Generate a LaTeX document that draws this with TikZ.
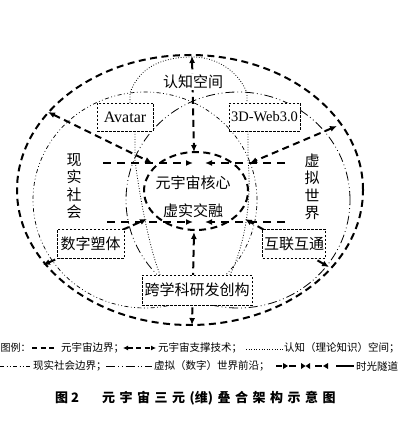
\documentclass[tikz,border=0pt]{standalone}
\usepackage{fontspec}
\setmainfont{Liberation Serif}
\newfontfamily\cjk{Noto Sans CJK SC}
\usetikzlibrary{arrows.meta}
\pgfdeclarelayer{back}
\pgfdeclarelayer{bg}
\pgfsetlayers{back,bg,main}
\newcommand{\capg}{\hspace{4.5pt}}
\begin{document}
\begin{tikzpicture}[x=1pt,y=-1pt,
  bound/.style={line width=2pt, dash pattern=on 7pt off 4.5pt},
  support/.style={line width=2pt, dash pattern=on 7pt off 4.5pt, {Latex[length=7pt,width=6pt]}-{Latex[length=7pt,width=6pt]}},
  tunnel/.style={line width=2pt, dash pattern=on 8pt off 6pt, -{Latex[length=7pt,width=6pt]}},
  realb/.style={line width=0.7pt, dash pattern=on 4pt off 2.5pt on 0.8pt off 2.5pt on 0.8pt off 2.5pt},
  virtb/.style={line width=0.8pt, dash pattern=on 9pt off 3pt on 0.8pt off 3pt on 0.8pt off 3pt},
  cog/.style={line width=0.8pt, dash pattern=on 0.8pt off 1.8pt},
  boxn/.style={draw, fill=white, line width=0.7pt, dash pattern=on 2.5pt off 1.5pt, inner sep=0pt},
  cjkt/.style={font=\cjk\fontsize{15}{17.5}\selectfont},
  lgd/.style={font=\cjk\fontsize{10.5}{12}\selectfont, anchor=west, inner sep=0pt},
]
\useasboundingbox (0,0) rectangle (419,427);
\begin{pgfonlayer}{back}
\fill[white] (0,0) rectangle (419,427);
\end{pgfonlayer}

% ---- nodes ----
\node[boxn, minimum width=56pt, minimum height=28pt, font=\fontsize{16}{16}\selectfont] (avatar) at (125,117) {Avatar};
\node[boxn, minimum width=71pt, minimum height=28pt, font=\fontsize{14.5}{14.5}\selectfont] (web) at (264.5,117) {3D-Web3.0};
\node[boxn, cjkt, minimum width=67pt, minimum height=29pt] (digi) at (90.5,243.5) {数字塑体};
\node[boxn, cjkt, minimum width=63pt, minimum height=29pt] (inter) at (294,243.5) {互联互通};
\node[boxn, cjkt, minimum width=110pt, minimum height=30pt] (cross) at (197,290) {跨学科研发创构};

\node[cjkt, fill=white, inner sep=1pt] (cogt) at (193,82) {认知空间};
\node[cjkt, align=center] (real) at (74,186) {现\\实\\社\\会};
\node[cjkt, align=center] (virt) at (312,187) {虚\\拟\\世\\界};
\node[cjkt] (core1) at (193,183) {元宇宙核心};
\node[cjkt] (core2) at (193,211) {虚实交融};

% ---- coordinates ----
\coordinate (oT) at (192,56);
\coordinate (oB) at (192,325);
\coordinate (oUL) at (48,112);
\coordinate (oUR) at (337,126);
\coordinate (oLL) at (43,265);
\coordinate (oLR) at (329,267);
\coordinate (cT) at (194,152);
\coordinate (cB) at (194,232);
\coordinate (cUL) at (152,163);
\coordinate (cUR) at (250,163);
\coordinate (cLL) at (147,219);
\coordinate (cLR) at (245,219);
\coordinate (tL1) at (103,163);
\coordinate (tR1) at (285,163);
\coordinate (tM1a) at (193,163);
\coordinate (tM1b) at (205,163);
\coordinate (tL2) at (107,222);
\coordinate (tR2) at (285,222);
\coordinate (tM2a) at (193,222);
\coordinate (tM2b) at (205,222);
\coordinate (a1) at (130,93);
\coordinate (w1) at (247,93);
\coordinate (a2) at (135,160);
\coordinate (w2) at (248,160);
\coordinate (k1) at (160,275);
\coordinate (k2) at (230,275);

\begin{pgfonlayer}{bg}
% ellipses
\draw[bound] (190,190) ellipse [x radius=173pt, y radius=135pt];
\draw[realb] (145,200) ellipse [x radius=112pt, y radius=108pt];
\draw[virtb] (238,200) ellipse [x radius=112pt, y radius=108pt];
\draw[bound] (196,191) ellipse [x radius=52pt, y radius=39pt];
% support arrows
\draw[support] (oT) -- (cT);
\draw[support] (cB) -- (oB);
\draw[support] (oUL) -- (cUL);
\draw[support] (oUR) -- (cUR);
\draw[support] (oLL) -- (cLL);
\draw[support] (oLR) -- (cLR);
% time tunnels
\draw[tunnel] (tL1) -- (tM1a);
\draw[tunnel] (tR1) -- (tM1b);
\draw[tunnel] (tL2) -- (tM2a);
\draw[tunnel] (tR2) -- (tM2b);
% cognitive space
\draw[cog] (avatar.north -| a1) -- (a1) .. controls (140,65) and (165,57) .. (193,57)
  .. controls (215,57) and (238,70) .. (w1) -- (web.north -| w1);
\draw[cog] (avatar.south -| a2) -- (a2) .. controls (140,200) and (150,250) .. (cross.north -| k1);
\draw[cog] (web.south -| w2) -- (w2) .. controls (252,200) and (245,245) .. (cross.north -| k2);
\end{pgfonlayer}

% ---- legend ----
\coordinate (l1a) at (32,348);
\coordinate (l1b) at (57,348);
\coordinate (l2a) at (123,348);
\coordinate (l2b) at (156,348);
\coordinate (l3a) at (246,349);
\coordinate (l3b) at (283,349);
\coordinate (l4a) at (0,366);
\coordinate (l4b) at (32,366);
\coordinate (l5a) at (106,366);
\coordinate (l5b) at (152,366);
\node[lgd, font=\cjk\fontsize{10}{12}\selectfont] (lg0) at (0.5,348) {图例：};
\draw[line width=1.6pt, dash pattern=on 5pt off 3.5pt] (l1a) -- (l1b);
\node[lgd] (lg1) at (61,348) {元宇宙边界；};
\draw[line width=1.6pt, dash pattern=on 5pt off 3.5pt, {Latex[length=5pt,width=5pt]}-{Latex[length=5pt,width=5pt]}] (l2a) -- (l2b);
\node[lgd] (lg2) at (158,348) {元宇宙支撑技术；};
\draw[cog] (l3a) -- (l3b);
\node[lgd] (lg3) at (284,348) {认知（理论知识）空间；};
\draw[realb] (l4a) -- (l4b);
\node[lgd] (lg4) at (33,366) {现实社会边界；};
\draw[virtb] (l5a) -- (l5b);
\node[lgd] (lg5) at (154,366) {虚拟（数字）世界前沿；};
\draw[line width=1.6pt] (276,366) -- (282,366);
\fill (283,363) -- (288,366) -- (283,369) -- cycle;
\draw[line width=1.6pt] (289,366) -- (296,366);
\fill (301,363) -- (305.5,366) -- (301,369) -- cycle;
\fill (310,363) -- (305.5,366) -- (310,369) -- cycle;
\draw[line width=1.6pt] (315,366) -- (322,366);
\fill (328,363) -- (323,366) -- (328,369) -- cycle;
\draw[line width=1.6pt] (336,366) -- (354,366);
\node[lgd] (lg6) at (356,366) {时光隧道};

% ---- caption ----
\node[font=\cjk\bfseries\fontsize{13}{13}\selectfont, anchor=west, inner sep=0pt] (cap1) at (55,398) {图 2};
\node[font=\cjk\bfseries\fontsize{13}{13}\selectfont, anchor=west, inner sep=0pt] (cap2) at (102,398)
  {元\capg 宇\capg 宙\capg 三\capg 元\capg (维)\capg 叠\capg 合\capg 架\capg 构\capg 示\capg 意\capg 图};
\end{tikzpicture}
\end{document}
